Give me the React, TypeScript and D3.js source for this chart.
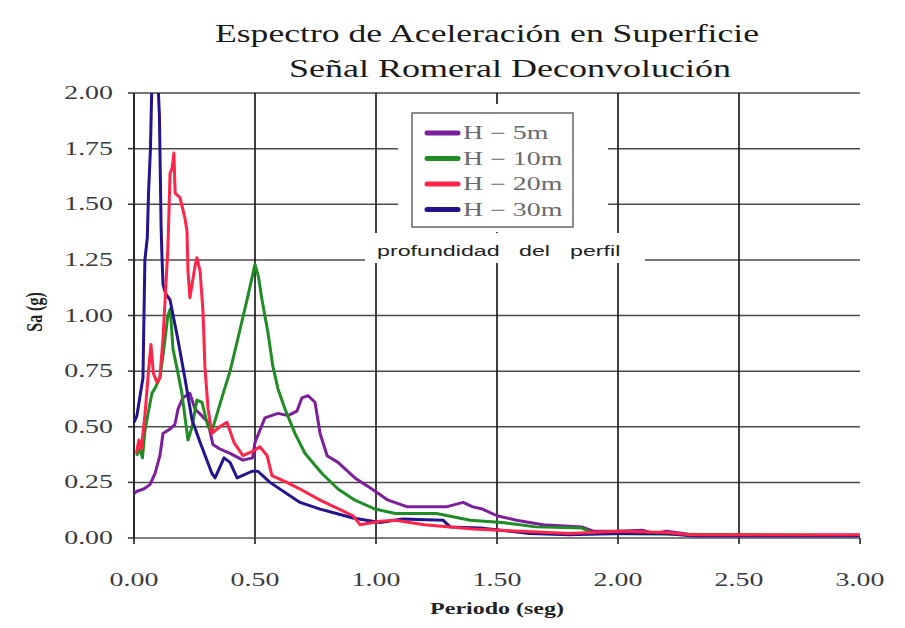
import React from "react";
import * as d3 from "d3";

// ticks
const periodTicks = [0, 0.5, 1, 1.5, 2, 2.5, 3];
const saTicks = [0, 0.25, 0.5, 0.75, 1, 1.25, 1.5, 1.75, 2];

const seriesNames = ["H − 5m", "H − 10m", "H − 20m", "H − 30m"];
const seriesColors = ["#7d1f9c", "#1f8c24", "#ff2448", "#24128f"];

// H = 5m
const periodH5 = [0, 0.012, 0.04, 0.066, 0.087, 0.107, 0.12, 0.149, 0.169, 0.182, 0.202, 0.231, 0.252, 0.28, 0.306, 0.326, 0.355, 0.397, 0.45, 0.49, 0.5, 0.541, 0.595, 0.636, 0.673, 0.694, 0.719, 0.748, 0.769, 0.798, 0.843, 0.913, 0.983, 1.05, 1.13, 1.29, 1.36, 1.4, 1.44, 1.5, 1.58, 1.69, 1.85, 1.9, 2.0, 2.1, 2.15, 2.2, 2.27, 2.32, 3.0];
const saH5 = [0.2, 0.21, 0.22, 0.24, 0.29, 0.37, 0.47, 0.49, 0.51, 0.58, 0.63, 0.65, 0.58, 0.55, 0.52, 0.42, 0.4, 0.38, 0.35, 0.36, 0.43, 0.54, 0.56, 0.55, 0.57, 0.63, 0.64, 0.61, 0.47, 0.37, 0.34, 0.27, 0.22, 0.17, 0.14, 0.14, 0.16, 0.14, 0.13, 0.1, 0.08, 0.06, 0.05, 0.03, 0.03, 0.035, 0.02, 0.03, 0.02, 0.01, 0.01];

// H = 10m
const periodH10 = [0.01, 0.025, 0.035, 0.045, 0.058, 0.074, 0.09, 0.107, 0.12, 0.14, 0.15, 0.161, 0.18, 0.198, 0.223, 0.24, 0.26, 0.281, 0.306, 0.322, 0.36, 0.397, 0.43, 0.467, 0.5, 0.515, 0.529, 0.554, 0.574, 0.595, 0.624, 0.665, 0.707, 0.777, 0.843, 0.913, 0.996, 1.08, 1.25, 1.39, 1.52, 1.66, 1.85, 1.9, 3.0];
const saH10 = [0.37, 0.4, 0.36, 0.48, 0.56, 0.65, 0.68, 0.72, 0.82, 1.0, 1.03, 0.85, 0.75, 0.65, 0.44, 0.5, 0.62, 0.61, 0.5, 0.48, 0.62, 0.75, 0.9, 1.07, 1.23, 1.17, 1.07, 0.92, 0.77, 0.67, 0.58, 0.47, 0.38, 0.29, 0.22, 0.17, 0.13, 0.11, 0.11, 0.08, 0.07, 0.05, 0.045, 0.02, 0.01];

// H = 20m
const periodH20 = [0.01, 0.02, 0.03, 0.045, 0.06, 0.07, 0.08, 0.095, 0.107, 0.12, 0.14, 0.149, 0.157, 0.165, 0.17, 0.19, 0.21, 0.219, 0.223, 0.231, 0.252, 0.26, 0.273, 0.285, 0.293, 0.306, 0.322, 0.355, 0.384, 0.413, 0.45, 0.492, 0.52, 0.55, 0.57, 0.632, 0.686, 0.769, 0.905, 0.934, 1.017, 1.08, 1.2, 1.4, 1.6, 1.8, 2.0, 2.2, 2.3, 3.0];
const saH20 = [0.38, 0.44, 0.4, 0.55, 0.75, 0.87, 0.74, 0.7, 0.72, 0.9, 1.3, 1.64, 1.66, 1.73, 1.55, 1.53, 1.44, 1.38, 1.2, 1.08, 1.22, 1.26, 1.2, 1.02, 0.77, 0.58, 0.47, 0.5, 0.52, 0.43, 0.37, 0.39, 0.41, 0.37, 0.28, 0.25, 0.22, 0.17, 0.1, 0.06, 0.075, 0.08, 0.06, 0.04, 0.03, 0.02, 0.03, 0.025, 0.015, 0.015];

// H = 30m
const periodH30 = [0, 0.012, 0.037, 0.045, 0.055, 0.06, 0.068, 0.075, 0.095, 0.105, 0.112, 0.116, 0.12, 0.13, 0.149, 0.18, 0.21, 0.24, 0.273, 0.322, 0.335, 0.372, 0.397, 0.426, 0.488, 0.512, 0.562, 0.686, 0.769, 0.905, 1.017, 1.11, 1.277, 1.306, 1.43, 1.636, 1.8, 2.0, 2.2, 2.3, 3.0];
const saH30 = [0.52, 0.55, 0.72, 1.25, 1.35, 1.55, 1.75, 2.1, 2.15, 1.9, 1.4, 1.25, 1.14, 1.1, 1.07, 0.9, 0.72, 0.53, 0.43, 0.29, 0.27, 0.36, 0.34, 0.27, 0.3, 0.3, 0.25, 0.16, 0.13, 0.09, 0.07, 0.085, 0.08, 0.05, 0.045, 0.02, 0.015, 0.02, 0.02, 0.01, 0.01];

const seriesPeriods = [periodH5, periodH10, periodH20, periodH30];
const seriesSa = [saH5, saH10, saH20, saH30];
const drawOrder = [0, 1, 3, 2];

const W = 905;
const H = 628;
const plot = { left: 134, right: 860, top: 93, bottom: 538 };
const STRETCH = 1.55;

const serif = "'Liberation Serif', 'DejaVu Serif', serif";
const sans = "'Liberation Sans', Arial, sans-serif";

// the source image is stretched sideways, text too
const SText = ({ x, y, anchor = "start", size, weight = "normal", fill = "#333", family = serif, sx = STRETCH, children }: any) => (
  <text
    transform={`translate(${x},${y}) scale(${sx},1)`}
    textAnchor={anchor}
    fontSize={size}
    fontWeight={weight}
    fill={fill}
    fontFamily={family}
  >
    {children}
  </text>
);

export default function App() {
  const x = d3.scaleLinear().domain([0, 3]).range([plot.left, plot.right]);
  const y = d3.scaleLinear().domain([0, 2]).range([plot.bottom, plot.top]);

  const line = d3
    .line<[number, number]>()
    .x((d) => x(d[0]))
    .y((d) => y(d[1]));

  const legendX = 427;
  const legendY0 = 133;
  const legendStep = 25.5;

  return (
    <svg width={W} height={H} style={{ position: "absolute", left: 0, top: 0, background: "#fff" }}>
      <defs>
        <clipPath id="plotClip">
          <rect x={plot.left} y={plot.top} width={plot.right - plot.left + 4} height={plot.bottom - plot.top} />
        </clipPath>
      </defs>

      {/* title */}
      <text x={215} y={42} textLength={544} lengthAdjust="spacingAndGlyphs" fontSize={26} fontFamily={serif} fill="#1a1a1a">
        Espectro de Aceleración en Superficie
      </text>
      <text x={289} y={77} textLength={442} lengthAdjust="spacingAndGlyphs" fontSize={26} fontFamily={serif} fill="#1a1a1a">
        Señal Romeral Deconvolución
      </text>

      {/* horizontal grid */}
      {saTicks.slice(1).map((t) => (
        <line key={"h" + t} x1={plot.left} x2={plot.right} y1={y(t)} y2={y(t)} stroke="#4a4a4a" strokeWidth={1.5} />
      ))}
      {/* vertical grid */}
      {periodTicks.slice(1, -1).map((t) => (
        <line key={"v" + t} x1={x(t)} x2={x(t)} y1={plot.top} y2={plot.bottom} stroke="#111" strokeWidth={1.6} />
      ))}

      {/* white boxes behind legend and note */}
      <rect x={398} y={104} width={210} height={128} fill="#fff" />
      <rect x={365} y={233} width={280} height={30} fill="#fff" />

      {/* x axis */}
      <line x1={plot.left} x2={plot.right} y1={plot.bottom} y2={plot.bottom} stroke="#555" strokeWidth={1.6} />
      {periodTicks.map((t) => (
        <line key={"xt" + t} x1={x(t)} x2={x(t)} y1={plot.bottom} y2={plot.bottom + 6} stroke="#111" strokeWidth={1.5} />
      ))}
      {periodTicks.map((t) => (
        <SText key={"xl" + t} x={x(t)} y={586} anchor="middle" size={18} fill="#3a3a3a">
          {d3.format(".2f")(t)}
        </SText>
      ))}

      {/* y axis */}
      <line x1={plot.left} x2={plot.left} y1={plot.top} y2={plot.bottom} stroke="#111" strokeWidth={1.8} />
      {saTicks.map((t) => (
        <line key={"yt" + t} x1={plot.left - 6} x2={plot.left} y1={y(t)} y2={y(t)} stroke="#333" strokeWidth={1.5} />
      ))}
      {saTicks.map((t) => (
        <SText key={"yl" + t} x={113} y={y(t) + 6} anchor="end" size={18} fill="#3a3a3a">
          {d3.format(".2f")(t)}
        </SText>
      ))}

      {/* axis titles */}
      <text transform="translate(42,312) rotate(-90) scale(1,1.45)" textAnchor="middle" fontSize={16} fontWeight="bold" fontFamily={serif} fill="#222">
        Sa (g)
      </text>
      <SText x={497} y={614} anchor="middle" size={16} weight="bold" fill="#222" sx={1.5}>
        Periodo (seg)
      </SText>

      {/* spectra */}
      <g clipPath="url(#plotClip)">
        {drawOrder.map((i) => {
          const pts = seriesPeriods[i].map((p, k) => [p, seriesSa[i][k]] as [number, number]);
          return (
            <path
              key={seriesNames[i]}
              d={line(pts) || ""}
              fill="none"
              stroke={seriesColors[i]}
              strokeWidth={3}
              strokeLinejoin="round"
            />
          );
        })}
      </g>

      {/* legend */}
      <rect x={412} y={113} width={161} height={114} fill="#fff" stroke="#666" strokeWidth={1.5} />
      {seriesNames.map((name, i) => (
        <g key={"lg" + name}>
          <line
            x1={legendX}
            x2={legendX + 31}
            y1={legendY0 + i * legendStep}
            y2={legendY0 + i * legendStep}
            stroke={seriesColors[i]}
            strokeWidth={5}
            strokeLinecap="round"
          />
          <SText x={463} y={legendY0 + i * legendStep + 6} size={18} fill="#6a6a6a">
            {name}
          </SText>
        </g>
      ))}

      {/* note */}
      <SText x={377} y={256} size={15} family={sans} fill="#222">profundidad</SText>
      <SText x={519} y={256} size={15} family={sans} fill="#222">del</SText>
      <SText x={570} y={256} size={15} family={sans} fill="#222">perfil</SText>
    </svg>
  );
}
